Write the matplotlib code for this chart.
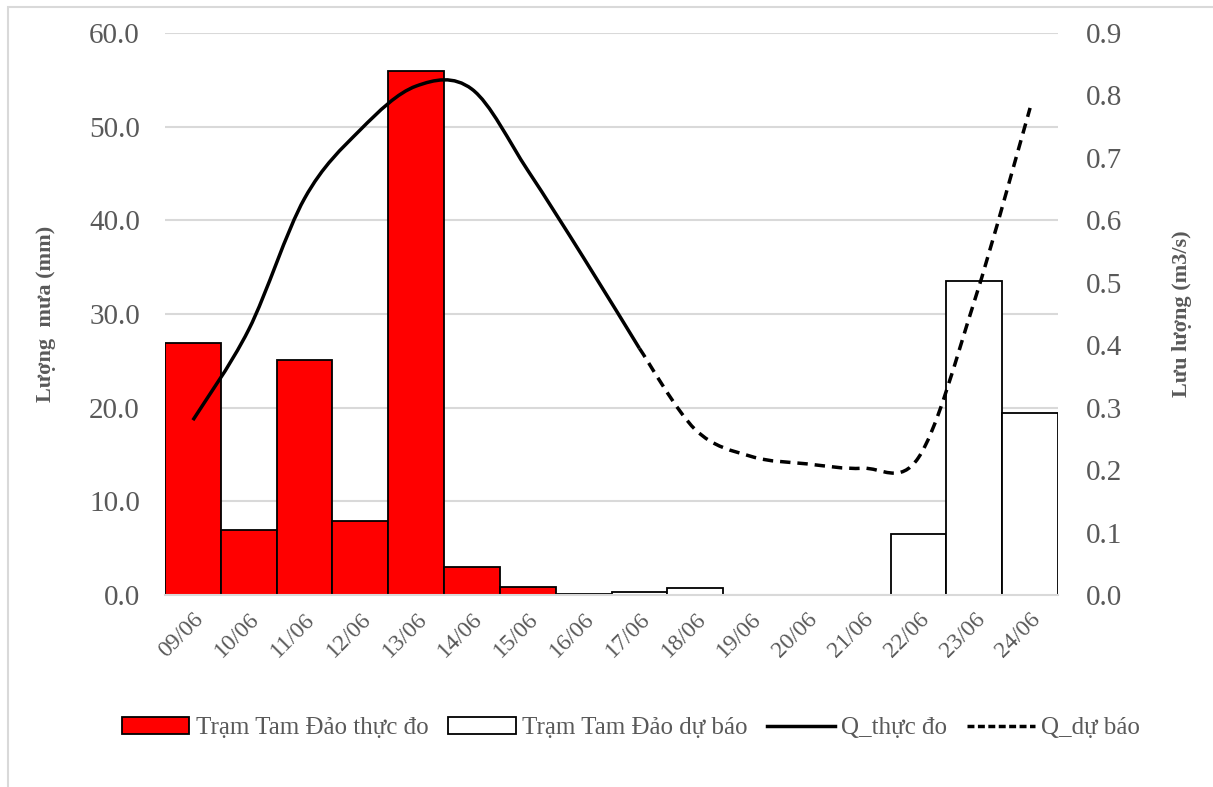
import matplotlib
matplotlib.use("Agg")
import matplotlib.pyplot as plt
import numpy as np
from matplotlib.path import Path
from matplotlib.patches import PathPatch, Patch, Rectangle
from matplotlib.lines import Line2D

plt.rcParams['font.family'] = ['Liberation Serif', 'DejaVu Serif']

dates = ["09/06", "10/06", "11/06", "12/06", "13/06", "14/06", "15/06", "16/06",
         "17/06", "18/06", "19/06", "20/06", "21/06", "22/06", "23/06", "24/06"]
rain_obs = [26.9, 6.9, 25.1, 7.9, 55.9, 3.0, 0.9, 0, 0, 0, 0, 0, 0, 0, 0, 0]
rain_fc = [0, 0, 0, 0, 0, 0, 0, 0.15, 0.3, 0.7, 0, 0, 0, 6.5, 33.5, 19.4]
q_obs = [0.28, 0.425, 0.635, 0.745, 0.815, 0.81, 0.68, 0.54, 0.395]
q_fc = [0.395, 0.265, 0.222, 0.21, 0.203, 0.22, 0.47, 0.78]

GRAY = '#595959'


def smooth_path(xs, ys):
    # Excel-like smoothed line: cubic bezier through each point
    pts = np.column_stack([xs, ys]).astype(float)
    n = len(pts)
    verts = [pts[0]]
    codes = [Path.MOVETO]
    for i in range(n - 1):
        p0 = pts[i - 1] if i > 0 else pts[i]
        p1 = pts[i]
        p2 = pts[i + 1]
        p3 = pts[i + 2] if i + 2 < n else pts[i + 1]
        c1 = p1 + (p2 - p0) / 6
        c2 = p2 - (p3 - p1) / 6
        verts += [c1, c2, p2]
        codes += [Path.CURVE4] * 3
    return Path(verts, codes)


fig = plt.figure(figsize=(12.13, 7.87), dpi=100)
fig.patches.append(Rectangle((8 / 1213, -0.1), 1.1, 1.1 - 7 / 787,
                             transform=fig.transFigure, fill=False,
                             edgecolor='#d9d9d9', linewidth=1.5))
ax = fig.add_axes([165 / 1213, 1 - 595 / 787, (1058 - 165) / 1213, (595 - 33) / 787])
ax2 = ax.twinx()

x = np.arange(len(dates))
ax.bar(x, rain_obs, width=1.0, color='#ff0000', edgecolor='black', linewidth=1.3, zorder=2)
ax.bar(x, rain_fc, width=1.0, color='white', edgecolor='black', linewidth=1.3, zorder=2)

ax.set_xlim(-0.5, len(dates) - 0.5)
ax.set_ylim(0, 60)
ax.set_yticks(np.arange(0, 61, 10))
ax.set_yticklabels([f"{v:.1f}" for v in np.arange(0, 61, 10)])
ax.grid(axis='y', color='#d9d9d9', linewidth=1.5, zorder=0)
ax.set_axisbelow(True)
ax.set_xticks(x)
ax.set_xticklabels(dates, rotation=45, ha='right', rotation_mode='anchor')
ax.tick_params(axis='x', length=0, pad=10, labelsize=17, labelcolor=GRAY)
ax.tick_params(axis='y', length=0, pad=18, labelsize=21, labelcolor=GRAY)
for s in ['top', 'right', 'left']:
    ax.spines[s].set_visible(False)
ax.spines['bottom'].set_color('#d9d9d9')
ax.spines['bottom'].set_linewidth(1.5)
ax.set_ylabel("Lượng  mưa (mm)", fontsize=16, fontweight='bold', color=GRAY, labelpad=24)

ax2.set_ylim(0, 0.9)
ax2.set_yticks(np.arange(0, 0.91, 0.1))
ax2.set_yticklabels([f"{v:.1f}" for v in np.arange(0, 0.91, 0.1)])
ax2.tick_params(axis='y', length=0, pad=20, labelsize=21, labelcolor=GRAY)
for s in ['top', 'right', 'left', 'bottom']:
    ax2.spines[s].set_visible(False)
ax2.set_ylabel("Lưu lượng (m3/s)", fontsize=16, fontweight='bold', color=GRAY, labelpad=36)

ax2.add_patch(PathPatch(smooth_path(x[:len(q_obs)], q_obs), fill=False,
                        edgecolor='black', linewidth=2.5, zorder=3))
ax2.add_patch(PathPatch(smooth_path(x[len(q_obs) - 1:], q_fc), fill=False,
                        edgecolor='black', linewidth=2.5, linestyle=(0, (3, 2)), zorder=3))

handles = [Patch(facecolor='#ff0000', edgecolor='black', linewidth=1.3),
           Patch(facecolor='white', edgecolor='black', linewidth=1.3),
           Line2D([], [], color='black', linewidth=2.5),
           Line2D([], [], color='black', linewidth=2.5, linestyle=(0, (2, 1)))]
labels = ["Trạm Tam Đảo thực đo", "Trạm Tam Đảo dự báo", "Q_thực đo", "Q_dự báo"]
leg = fig.legend(handles, labels, loc='center', bbox_to_anchor=(0.52, 1 - 728 / 787),
                 ncol=4, frameon=False, fontsize=18, handlelength=2.7, handletextpad=0.25,
                 columnspacing=0.8)
for t in leg.get_texts():
    t.set_color(GRAY)

fig.savefig("out.png", dpi=100)
